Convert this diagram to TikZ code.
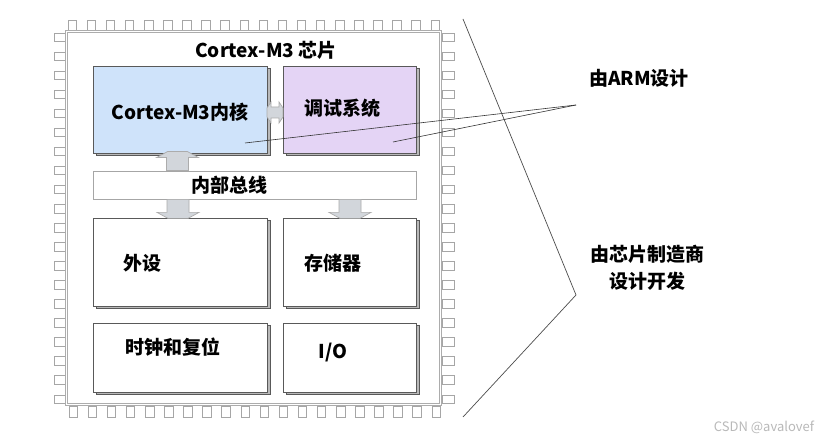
\documentclass[tikz,border=0pt]{standalone}
\usepackage{fontspec}
\setmainfont{Noto Sans CJK SC}
\usetikzlibrary{shadows}
\definecolor{coreblue}{RGB}{207,227,250}
\definecolor{dbgpurple}{RGB}{228,212,245}
\definecolor{arrowgray}{RGB}{210,214,219}

\begin{document}
\begin{tikzpicture}[x=1pt,y=-1pt,
    every node/.style={inner sep=0pt, font=\fontsize{19}{27}\selectfont\bfseries},
    blk/.style={draw=black!65, line width=0.9pt, fill=white,
      copy shadow={shadow xshift=3pt, shadow yshift=-2.5pt, fill=gray!55, draw=black!65}},
    flat/.style={draw=gray!70, line width=0.8pt, fill=white},
    pin/.style={draw=gray!70, line width=0.8pt, fill=white},
    arrowbody/.style={draw=gray!65, line width=0.7pt, fill=arrowgray},
    lead/.style={draw=black!80, line width=0.6pt},
    brace/.style={draw=black!70, line width=0.7pt},
    pics/fatarrow/.style={code={
        \draw[arrowbody] (-11,0) -- (11,0) -- (11,13) -- (21,13) -- (10,19)
          -- (-10,19) -- (-21,13) -- (-11,13) -- cycle;}}
  ]
  \useasboundingbox (0,0) rectangle (833,443);
  \fill[white] (0,0) rectangle (833,443);

  % Pins round the chip
  \foreach \i in {0,...,19} {
      \draw[pin] ({68+19.1*\i},20) rectangle +(8.5,10);
      \draw[pin] ({69+19.1*\i},406) rectangle +(8.5,11);
      \draw[pin] (54,{33+19.05*\i}) rectangle +(11,8.5);
      \draw[pin] (442,{33+19.05*\i}) rectangle +(12,8.5);
    }

  % Chip body
  \node(chip)[draw=gray!65, line width=0.8pt, double=white, double distance=1.8pt,
    fill=white, minimum width=374, minimum height=373] at (253.5,218) {};
  \node(title) at (266,50) {Cortex-M3 芯片};

  % Blocks
  \node(core)[blk, fill=coreblue, minimum width=174, minimum height=87] at (180,109.5) {};
  \node(debug)[blk, fill=dbgpurple, minimum width=133, minimum height=87] at (349.5,109.5) {};
  \node(bus)[flat, minimum width=323, minimum height=28] at (254.5,185) {};
  \node(peri)[blk, minimum width=174, minimum height=88] at (180,262) {};
  \node(mem)[blk, minimum width=133, minimum height=88] at (349.5,262) {};
  \node(clk)[blk, minimum width=174, minimum height=69] at (180,357.5) {};
  \node(io)[blk, minimum width=133, minimum height=69] at (349.5,357.5) {};

  % Block texts
  \node(coreT) at (180,112) {Cortex-M3内核};
  \node(debugT) at (342,108) {调试系统};
  \node(busT) at (229,185) {内部总线};
  \node(periT) at (142,263) {外设};
  \node(memT) at (333,263) {存储器};
  \node(clkT) at (173,347) {时钟和复位};
  \node(ioT) at (333,353) {I/O};

  % Bus arrows
  \pic[rotate=180] at ([xshift=-77pt]bus.north) {fatarrow};
  \pic at ([xshift=-76.5pt]bus.south) {fatarrow};
  \pic at ([xshift=95.5pt]bus.south) {fatarrow};
  \draw[arrowbody] (267,108) -- (271,102) -- (271,107) -- (279,107) -- (279,102)
    -- (283,108) -- (283,117) -- (279,123) -- (279,118) -- (271,118)
    -- (271,123) -- (267,117) -- cycle;

  % Right side notes
  \node(arm) at (639,78) {由ARM设计};
  \node(fab)[align=center] at (647,268) {由芯片制造商\\设计开发};
  \coordinate(armtip) at (576,105);
  \coordinate(coreP) at (245,143);
  \coordinate(debugP) at (393,142);
  \draw[lead] (armtip) -- (coreP);
  \draw[lead] (armtip) -- (debugP);

  \coordinate(braceTop) at (463,19);
  \coordinate(braceTip) at (576,295);
  \coordinate(braceBot) at (463,417);
  \draw[brace] (braceTop) -- (braceTip) -- (braceBot);

  \node(mark)[font=\fontsize{13}{15}\selectfont, text=gray!55] at (764,427) {CSDN @avalovef};
\end{tikzpicture}
\end{document}
